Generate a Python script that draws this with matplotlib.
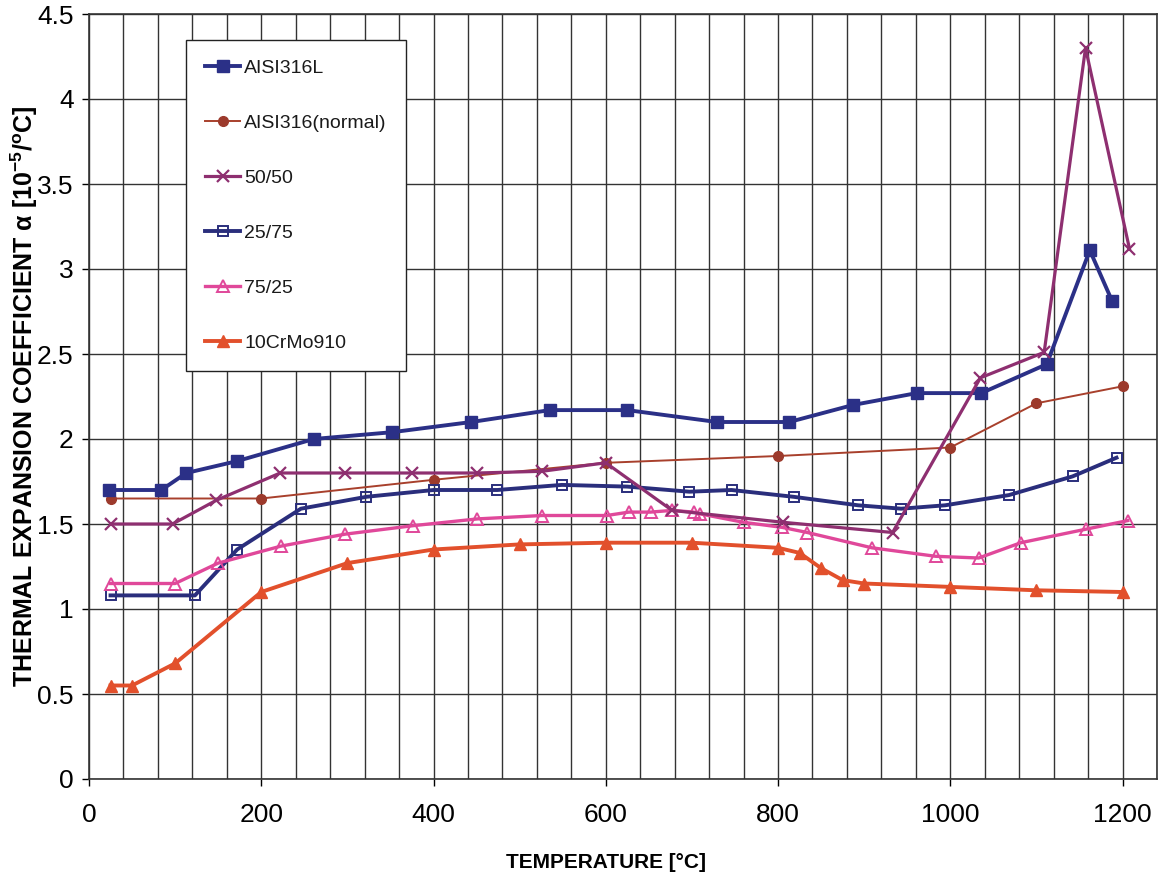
import numpy as np
import matplotlib
matplotlib.use('Agg')
import matplotlib.pyplot as plt
from matplotlib import font_manager
from matplotlib.ticker import MultipleLocator, FormatStrFormatter

# temperature [C] and expansion coefficient alpha [1e-5 / C] per material
t_316l = [23, 84, 113, 172, 261, 352, 444, 535, 625, 729, 813, 887, 961, 1036, 1112, 1162, 1188]
a_316l = [1.70, 1.70, 1.80, 1.87, 2.00, 2.04, 2.10, 2.17, 2.17, 2.10, 2.10, 2.20, 2.27, 2.27, 2.44, 3.11, 2.81]

t_316n = [25, 200, 400, 600, 800, 1000, 1100, 1200]
a_316n = [1.65, 1.65, 1.76, 1.86, 1.90, 1.95, 2.21, 2.31]

t_5050 = [25, 97, 148, 222, 297, 375, 451, 526, 600, 677, 806, 933, 1035, 1109, 1157, 1208]
a_5050 = [1.50, 1.50, 1.64, 1.80, 1.80, 1.80, 1.80, 1.81, 1.86, 1.58, 1.51, 1.45, 2.36, 2.51, 4.30, 3.12]

t_2575 = [25, 123, 172, 246, 322, 400, 474, 549, 625, 697, 746, 818, 893, 943, 994, 1068, 1142, 1193]
a_2575 = [1.08, 1.08, 1.35, 1.59, 1.66, 1.70, 1.70, 1.73, 1.72, 1.69, 1.70, 1.66, 1.61, 1.59, 1.61, 1.67, 1.78, 1.89]

t_7525 = [25, 100, 150, 223, 297, 376, 451, 526, 601, 627, 652, 677, 702, 709, 760, 805, 834, 909, 983, 1033, 1082, 1158, 1206]
a_7525 = [1.15, 1.15, 1.27, 1.37, 1.44, 1.49, 1.53, 1.55, 1.55, 1.57, 1.57, 1.58, 1.57, 1.56, 1.51, 1.48, 1.45, 1.36, 1.31, 1.30, 1.39, 1.47, 1.52]

t_crmo = [25, 50, 100, 200, 300, 400, 500, 600, 700, 800, 825, 850, 875, 900, 1000, 1100, 1200]
a_crmo = [0.55, 0.55, 0.68, 1.10, 1.27, 1.35, 1.38, 1.39, 1.39, 1.36, 1.33, 1.24, 1.17, 1.15, 1.13, 1.11, 1.10]

names = {f.name for f in font_manager.fontManager.ttflist}
narrow = 'Liberation Sans Narrow' if 'Liberation Sans Narrow' in names else 'Liberation Sans'

plt.rcParams['font.family'] = ['Liberation Sans', 'DejaVu Sans']
plt.rcParams['mathtext.default'] = 'regular'
plt.rcParams['text.color'] = '#1a1a1a'

fig = plt.figure(figsize=(11.6, 8.81), dpi=100)
ax = fig.add_axes([89 / 1160, 1 - 779 / 881, 1068 / 1160, 765 / 881])

ax.plot(t_316l, a_316l, color='#2B3087', lw=2.8, marker='s', ms=8, label='AISI316L', zorder=5)
ax.plot(t_316n, a_316n, color='#A8402C', lw=1.4, marker='o', ms=7,
        mfc='#9C3A2C', mec='#9C3A2C', label='AISI316(normal)', zorder=4)
ax.plot(t_5050, a_5050, color='#8E2F70', lw=2.3, marker='x', ms=9, mew=1.6, label='50/50', zorder=6)
ax.plot(t_2575, a_2575, color='#2A2E7C', lw=2.8, marker='s', ms=7, mfc='none', mew=1.4,
        label='25/75', zorder=5)
ax.plot(t_7525, a_7525, color='#E0489A', lw=2.4, marker='^', ms=8, mfc='none', mew=1.4,
        label='75/25', zorder=5)
ax.plot(t_crmo, a_crmo, color='#E2502C', lw=2.8, marker='^', ms=9, label='10CrMo910', zorder=5)

ax.set_xlim(0, 1240)
ax.set_ylim(0, 4.5)
ax.xaxis.set_major_locator(MultipleLocator(200))
ax.xaxis.set_minor_locator(MultipleLocator(40))
ax.yaxis.set_major_locator(MultipleLocator(0.5))
ax.yaxis.set_major_formatter(FormatStrFormatter('%g'))

ax.grid(which='both', axis='x', color='#333333', lw=1.0, zorder=0)
ax.grid(which='major', axis='y', color='#333333', lw=1.0, zorder=0)
ax.set_axisbelow(True)
for s in ax.spines.values():
    s.set_color('#333333')
    s.set_linewidth(1.2)

ax.tick_params(which='minor', length=0)
ax.tick_params(axis='x', which='major', direction='out', length=5, width=1, pad=12, labelsize=19)
ax.tick_params(axis='y', which='major', direction='out', length=5, width=1, pad=6, labelsize=19)
for lab in ax.get_xticklabels() + ax.get_yticklabels():
    lab.set_family([narrow, 'DejaVu Sans'])

ax.set_xlabel('TEMPERATURE [°C]', fontsize=15, fontweight='bold', family=[narrow, 'DejaVu Sans'])
ax.xaxis.set_label_coords(0.484, -0.097)
ax.set_ylabel(r'THERMAL EXPANSION COEFFICIENT $\alpha$ [10$^{-5}$/$^{o}$C]', fontsize=18,
              fontweight='bold')
ax.yaxis.set_label_coords(-0.046, 0.5)

leg = ax.legend(loc='upper left', bbox_to_anchor=(0.0908, 0.966), borderaxespad=0,
                frameon=True, fancybox=False, edgecolor='#222222', framealpha=1,
                borderpad=1.0, labelspacing=1.92, handlelength=1.8, handletextpad=0.2,
                numpoints=1, prop={'size': 14})
leg.get_frame().set_linewidth(1.0)

fig.savefig('out.png', dpi=100)
